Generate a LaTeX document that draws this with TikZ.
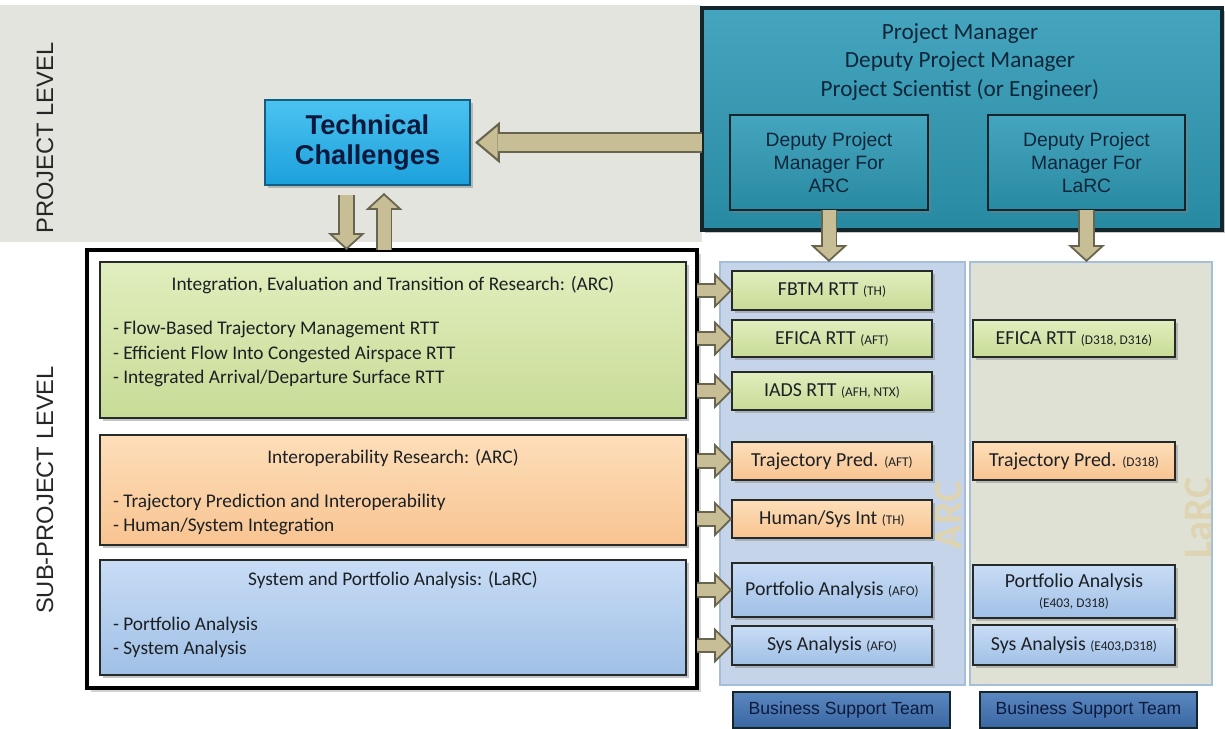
\documentclass[tikz,border=0pt]{standalone}
\usepackage{fontspec}
\setmainfont{Carlito}
\newfontfamily\arialfont{Liberation Sans}
\usetikzlibrary{arrows.meta,calc,shadows}

\definecolor{bandgray}{RGB}{228,228,223}
\definecolor{pmteal}{RGB}{40,138,162}
\definecolor{pmtealhi}{RGB}{70,165,190}
\definecolor{pmline}{RGB}{18,38,44}
\definecolor{pmtext}{RGB}{14,38,58}
\definecolor{tcblue}{RGB}{28,160,220}
\definecolor{tcbluehi}{RGB}{75,195,240}
\definecolor{tctext}{RGB}{10,25,60}
\definecolor{arrowtan}{RGB}{200,190,150}
\definecolor{arrowedge}{RGB}{105,100,78}
\definecolor{rttgreen}{RGB}{200,219,150}
\definecolor{rttgreenhi}{RGB}{225,238,190}
\definecolor{iopamber}{RGB}{248,196,145}
\definecolor{iopamberhi}{RGB}{253,222,185}
\definecolor{spablue}{RGB}{160,192,230}
\definecolor{spabluehi}{RGB}{200,220,245}
\definecolor{boxline}{RGB}{38,42,40}
\definecolor{boxtext}{RGB}{28,32,36}
\definecolor{arcpanel}{RGB}{197,212,232}
\definecolor{larcpanel}{RGB}{222,225,212}
\definecolor{panelline}{RGB}{165,190,218}
\definecolor{collabel}{RGB}{222,212,178}
\definecolor{bstblue}{RGB}{58,102,162}
\definecolor{bstbluehi}{RGB}{92,136,192}
\definecolor{bsttext}{RGB}{12,26,62}

% small organisation codes after the task names
\newcommand\orgcode[1]{{\fontsize{7.6}{9}\selectfont #1}}

\begin{document}
\begin{tikzpicture}[x=0.02cm, y=-0.02cm,
  every node/.style={inner sep=0pt, outer sep=0pt},
  boxsize/.style 2 args={minimum width=#1*0.02cm, minimum height=#2*0.02cm},
  shadowed/.style={drop shadow={opacity=0.45, shadow xshift=1.6pt, shadow yshift=-1.6pt}},
  tbox/.style={draw=boxline, line width=0.9pt, shadowed, text=boxtext,
    font=\fontsize{11.3}{12.5}\selectfont, align=center},
  green task/.style={tbox, top color=rttgreenhi, bottom color=rttgreen},
  amber task/.style={tbox, top color=iopamberhi, bottom color=iopamber},
  blue task/.style={tbox, top color=spabluehi, bottom color=spablue},
  area/.style={draw=boxline, line width=1pt, shadowed, text=boxtext},
  title/.style={text=boxtext, font=\fontsize{11}{13}\selectfont},
  items/.style={text=boxtext, anchor=west, align=left, font=\fontsize{11}{13.9}\selectfont},
  dpm/.style={draw=pmline, line width=1.1pt, top color=pmtealhi, bottom color=pmteal,
    shadowed, text=pmtext, align=center, font=\arialfont\fontsize{11}{13}\selectfont},
  bst/.style={draw=pmline, line width=1.1pt, top color=bstbluehi, bottom color=bstblue,
    text=bsttext, font=\arialfont\fontsize{10}{12}\selectfont, boxsize={217}{36}},
  level/.style={rotate=90, text=black!85, font=\arialfont\fontsize{13.5}{16}\selectfont},
  colname/.style={rotate=90, text=collabel, font=\bfseries\fontsize{23}{26}\selectfont},
  bigarrow/.style={draw=arrowedge, line width=12.5pt,
    -{Triangle[line width=0pt, length=14.2pt, width=23.8pt]},
    postaction={draw=arrowtan, line width=10pt, shorten >=2pt,
      -{Triangle[line width=0pt, length=10.9pt, width=18.3pt]}}},
  midarrow/.style={draw=arrowedge, line width=9.6pt,
    -{Triangle[line width=0pt, length=9.6pt, width=21pt]},
    postaction={draw=arrowtan, line width=7.4pt, shorten >=1.5pt,
      -{Triangle[line width=0pt, length=7pt, width=15.3pt]}}},
  smallarrow/.style={draw=arrowedge, line width=9pt,
    -{Triangle[line width=0pt, length=10.2pt, width=20.4pt]},
    postaction={draw=arrowtan, line width=6.8pt, shorten >=1.55pt,
      -{Triangle[line width=0pt, length=7.5pt, width=15pt]}}}]

\useasboundingbox (0,0) rectangle (1225,729);

% project level band and the two centre columns
\fill[bandgray] (0,5) rectangle (702,242);
\node[draw=panelline, line width=0.6pt, fill=arcpanel, boxsize={245}{423}] (arc-col) at (842.5,473.5) {};
\node[draw=panelline, line width=0.6pt, fill=larcpanel, boxsize={242}{423}] (larc-col) at (1091,473.5) {};
\node[colname] (arc-name) at (948,515) {ARC};
\node[colname] (larc-name) at (1198,518) {LaRC};

\node[level] (project-level) at (45,138) {PROJECT LEVEL};
\node[level] (sub-level) at (45,490) {SUB-PROJECT LEVEL};

% project office
\node[draw=pmline, line width=2pt, top color=pmtealhi, bottom color=pmteal, shadowed,
  boxsize={520}{222}] (pm) at (962,119) {};
\node[text=pmtext, align=center, font=\fontsize{13.2}{16.4}\selectfont] (pm-text) at (960,62)
  {Project Manager\\Deputy Project Manager\\Project Scientist (or Engineer)};
\node[dpm, boxsize={198}{95}] (dpm-arc) at (829,162.5) {Deputy Project\\Manager For\\ARC};
\node[dpm, boxsize={197}{95}] (dpm-larc) at (1086.5,162.5) {Deputy Project\\Manager For\\LaRC};

\node[draw=tcblue!60!black, line width=0.8pt, top color=tcbluehi, bottom color=tcblue, shadowed,
  text=tctext, align=center, font=\arialfont\bfseries\fontsize{15.5}{17.6}\selectfont,
  boxsize={205}{85}] (tc) at (367.5,142.5) {Technical\\Challenges};

% sub-project areas
\node[draw=black, line width=1.8pt, fill=white, drop shadow={opacity=0.35, shadow xshift=2pt, shadow yshift=-2pt},
  boxsize={610}{438}] (bb) at (392,469) {};
\node[area, top color=rttgreenhi, bottom color=rttgreen, boxsize={586}{156}] (green) at (393,340) {};
\node[area, top color=iopamberhi, bottom color=iopamber, boxsize={586}{110}] (amber) at (393,490) {};
\node[area, top color=spabluehi, bottom color=spablue, boxsize={586}{115}] (blue) at (393,617.5) {};

\node[title] (green-title) at (393,285) {Integration, Evaluation and Transition of Research: (ARC)};
\node[items] (green-items) at (113,354) {- Flow-Based Trajectory Management RTT\\
  - Efficient Flow Into Congested Airspace RTT\\- Integrated Arrival/Departure Surface RTT};
\node[title] (amber-title) at (393,458) {Interoperability Research: (ARC)};
\node[items] (amber-items) at (113,514.5) {- Trajectory Prediction and Interoperability\\- Human/System Integration};
\node[title] (blue-title) at (393,580) {System and Portfolio Analysis: (LaRC)};
\node[items] (blue-items) at (113,637.5) {- Portfolio Analysis\\- System Analysis};

% tasks at ARC
\foreach \m/\l/\y/\h [count=\i] in {
    green/{FBTM RTT \orgcode{(TH)}}/290.5/39,
    green/{EFICA RTT \orgcode{(AFT)}}/338.5/37,
    green/{IADS RTT \orgcode{(AFH, NTX)}}/391/38,
    amber/{Trajectory Pred. \orgcode{(AFT)}}/461/38,
    amber/{Human/Sys Int \orgcode{(TH)}}/519/38,
    blue/{Portfolio Analysis \orgcode{(AFO)}}/590/54,
    blue/{Sys Analysis \orgcode{(AFO)}}/645.5/39}
  \node[\m\space task, boxsize={200}{\h}] (arc-\i) at (832,\y) {\l};

% tasks at LaRC
\foreach \m/\l/\y/\h [count=\i] in {
    green/{EFICA RTT \orgcode{(D318, D316)}}/338.5/37,
    amber/{Trajectory Pred. \orgcode{(D318)}}/461/38,
    blue/{Portfolio Analysis\\[-1pt]\orgcode{(E403, D318)}}/591.5/53,
    blue/{Sys Analysis \orgcode{(E403,D318)}}/645/40}
  \node[\m\space task, boxsize={202}{\h}] (larc-\i) at (1074,\y) {\l};

\node[bst] (bst-arc) at (841.5,710) {Business Support Team};
\node[bst] (bst-larc) at (1088.5,710) {Business Support Team};

% flows
\draw[bigarrow] (pm.west |- tc.east) -- ($(tc.east)+(5,0)$);

\coordinate (tc-down) at ($(tc.south)+(-21,10)$);
\coordinate (tc-up) at ($(tc.south)+(16.5,8)$);
\draw[midarrow] (tc-down) -- (tc-down |- bb.north);
\draw[midarrow] (tc-up |- bb.north) -- (tc-up);

\draw[midarrow] (dpm-arc.south) -- (dpm-arc.south |- arc-col.north);
\draw[midarrow] (dpm-larc.south) -- (dpm-larc.south |- larc-col.north);

\foreach \i in {1,...,7}
  \draw[smallarrow] (bb.east |- arc-\i) -- (arc-\i.west);
\end{tikzpicture}
\end{document}
